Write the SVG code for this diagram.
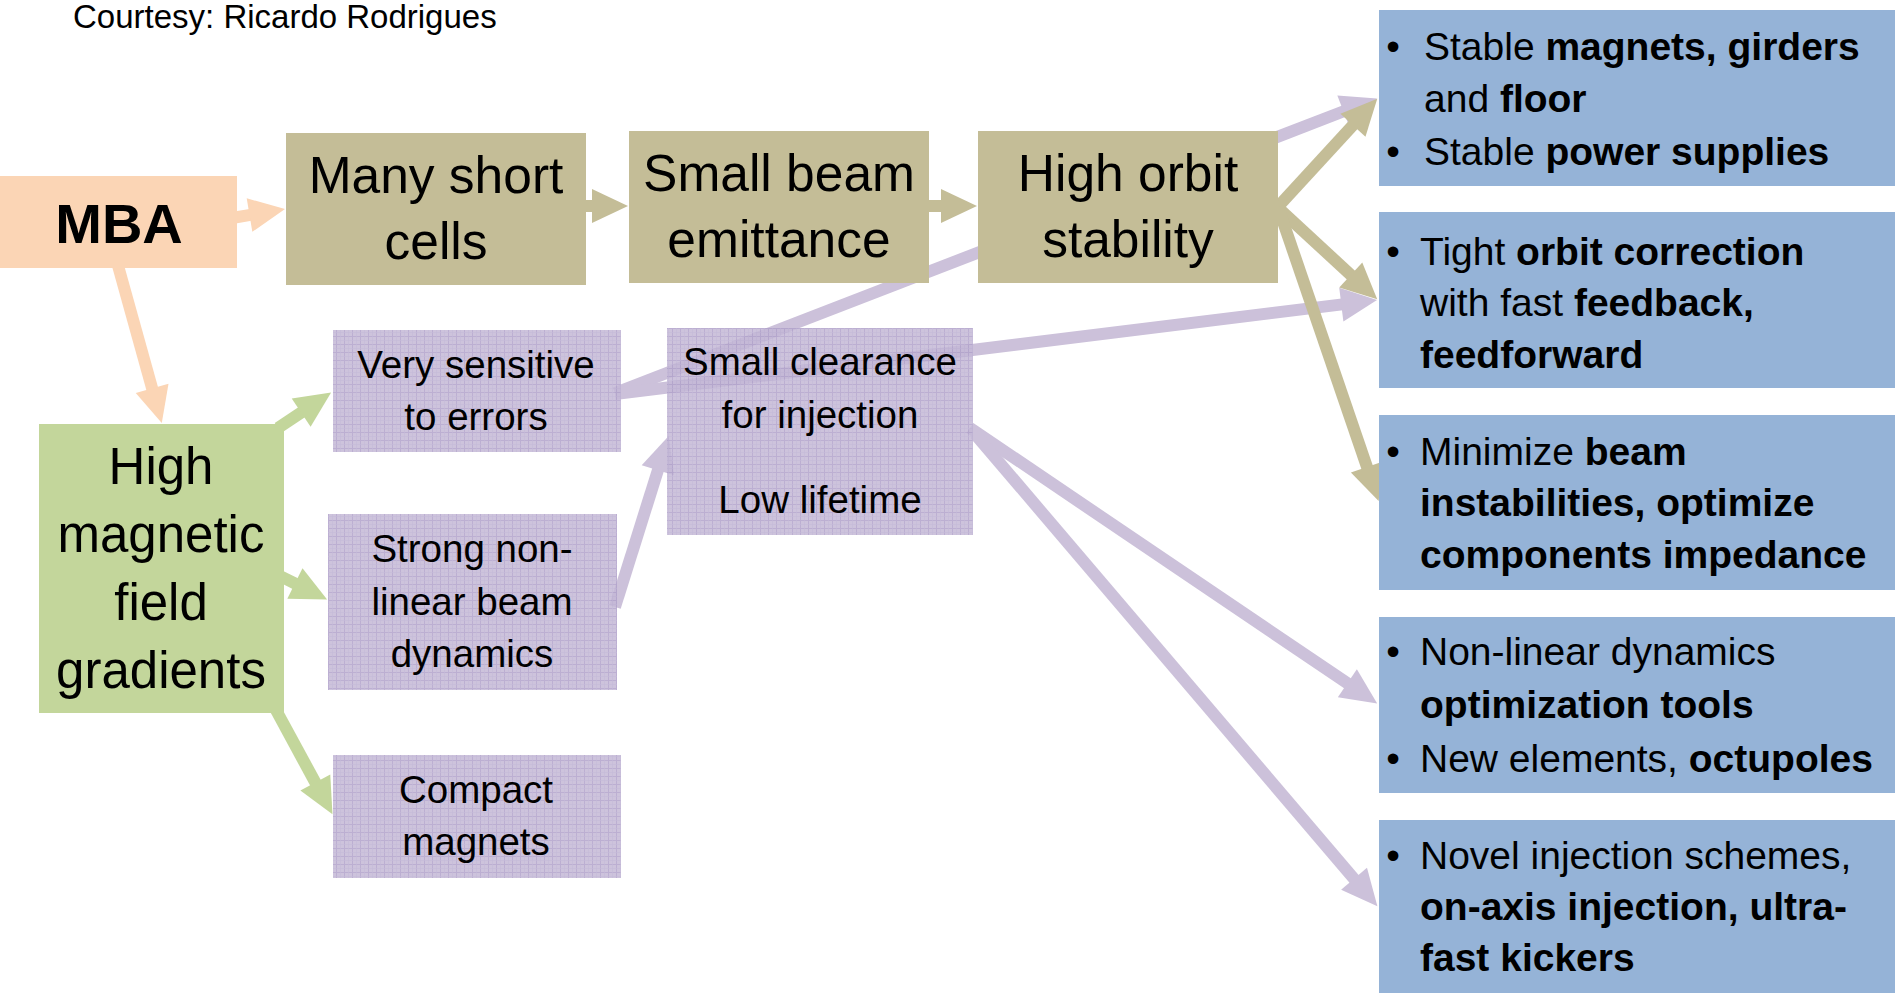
<svg xmlns="http://www.w3.org/2000/svg" width="1895" height="993" viewBox="0 0 1895 993">
<defs>
<style>
text{font-family:"Liberation Sans",Arial,sans-serif;fill:#000}
.big{font-size:51.5px;text-anchor:middle}
.grn{font-size:51px;text-anchor:middle}
.pur{font-size:38.5px;text-anchor:middle}
.rt{font-size:39px}
.bul{font-size:39px;text-anchor:middle}
.b{font-weight:bold}
.cn{fill:none;stroke-width:12;stroke-linecap:butt}
.pk{stroke:#FBD5B5;marker-end:url(#hP)}
.kh{stroke:#C4BD97;marker-end:url(#hK)}
.gr{stroke:#C3D69B;marker-end:url(#hG)}
.pu{stroke:#CCC1DA;marker-end:url(#hU)}
.blue{fill:#95B3D7}
.khaki{fill:#C4BD97}
.purp{fill:url(#pgrid);opacity:0.85}
</style>
<pattern id="pgrid" width="8" height="8" patternUnits="userSpaceOnUse">
<rect width="8" height="8" fill="#C4B8D6"/>
<path d="M0,0.5H8M0.5,0V8" stroke="#B0A1CA" stroke-width="1"/>
<path d="M0,4.5H8M4.5,0V8" stroke="#BBAED2" stroke-width="0.6"/>
</pattern>
<marker id="hP" markerUnits="userSpaceOnUse" markerWidth="36" markerHeight="34" refX="1" refY="17" orient="auto" overflow="visible"><path d="M0,0L36,17L0,34Z" fill="#FBD5B5"/></marker>
<marker id="hK" markerUnits="userSpaceOnUse" markerWidth="36" markerHeight="34" refX="1" refY="17" orient="auto" overflow="visible"><path d="M0,0L36,17L0,34Z" fill="#C4BD97"/></marker>
<marker id="hG" markerUnits="userSpaceOnUse" markerWidth="36" markerHeight="34" refX="1" refY="17" orient="auto" overflow="visible"><path d="M0,0L36,17L0,34Z" fill="#C3D69B"/></marker>
<marker id="hU" markerUnits="userSpaceOnUse" markerWidth="36" markerHeight="34" refX="1" refY="17" orient="auto" overflow="visible"><path d="M0,0L36,17L0,34Z" fill="#CCC1DA"/></marker>
</defs>
<rect width="1895" height="993" fill="#FFFFFF"/>
<text x="73" y="28" style="font-size:33px">Courtesy: Ricardo Rodrigues</text>

<g id="connectors">
<line class="cn pu" x1="615" y1="393" x2="1344.4" y2="111"/>
<line class="cn pu" x1="615" y1="394" x2="1342.3" y2="304.4"/>
<line class="cn pu" x1="615" y1="607" x2="658.2" y2="469.3"/>
<line class="cn pu" x1="970" y1="428" x2="1348.2" y2="683.8"/>
<line class="cn pu" x1="975" y1="434" x2="1354.7" y2="879.6"/>
<line class="cn pk" x1="232" y1="218" x2="250.5" y2="214.9"/>
<line class="cn pk" x1="117" y1="262" x2="152.4" y2="389.3"/>
<line class="cn gr" x1="278" y1="428" x2="302" y2="412"/>
<line class="cn gr" x1="280" y1="576" x2="295.8" y2="583.9"/>
<line class="cn gr" x1="276" y1="710" x2="315.8" y2="783.4"/>
<line class="cn kh" x1="580" y1="206" x2="593" y2="206"/>
<line class="cn kh" x1="925" y1="206" x2="942" y2="206"/>
<line class="cn kh" x1="1275" y1="210" x2="1353.6" y2="124.5"/>
<line class="cn kh" x1="1275" y1="205" x2="1351.5" y2="275.6"/>
<line class="cn kh" x1="1278" y1="207" x2="1367.3" y2="467.9"/>
</g>

<g id="mba">
<rect x="0" y="176" width="237" height="92" fill="#FBD5B5"/>
<text x="119" y="243" class="b" style="font-size:56px;text-anchor:middle">MBA</text>
</g>
<g id="many-short-cells">
<rect x="286" y="133" width="300" height="152" class="khaki"/>
<text class="big" x="436"><tspan x="436" y="193">Many short</tspan><tspan x="436" y="259">cells</tspan></text>
</g>
<g id="small-beam-emittance">
<rect x="629" y="131" width="300" height="152" class="khaki"/>
<text class="big" x="779"><tspan x="779" y="191">Small beam</tspan><tspan x="779" y="257">emittance</tspan></text>
</g>
<g id="high-orbit-stability">
<rect x="978" y="131" width="300" height="152" class="khaki"/>
<text class="big" x="1128"><tspan x="1128" y="191">High orbit</tspan><tspan x="1128" y="257">stability</tspan></text>
</g>
<g id="high-magnetic-field-gradients">
<rect x="39" y="424" width="245" height="289" fill="#C3D69B"/>
<text class="grn" x="161"><tspan x="161" y="484">High</tspan><tspan x="161" y="552">magnetic</tspan><tspan x="161" y="620">field</tspan><tspan x="161" y="688">gradients</tspan></text>
</g>
<g id="very-sensitive">
<rect x="333" y="330" width="288" height="122" class="purp"/>
<text class="pur" x="476"><tspan x="476" y="378">Very sensitive</tspan><tspan x="476" y="430">to errors</tspan></text>
</g>
<g id="strong-nonlinear">
<rect x="328" y="514" width="289" height="176" class="purp"/>
<text class="pur" x="472"><tspan x="472" y="562">Strong non-</tspan><tspan x="472" y="615">linear beam</tspan><tspan x="472" y="667">dynamics</tspan></text>
</g>
<g id="compact-magnets">
<rect x="333" y="755" width="288" height="123" class="purp"/>
<text class="pur" x="476"><tspan x="476" y="803">Compact</tspan><tspan x="476" y="855">magnets</tspan></text>
</g>
<g id="small-clearance">
<rect x="667" y="328" width="306" height="207" class="purp"/>
<text class="pur" x="820"><tspan x="820" y="375">Small clearance</tspan><tspan x="820" y="428">for injection</tspan><tspan x="820" y="513">Low lifetime</tspan></text>
</g>

<g id="stable">
<rect x="1379" y="10" width="516" height="176" class="blue"/>
<text class="bul" x="1393" y="60">•</text>
<text class="rt" x="1424" y="60">Stable <tspan class="b">magnets, girders</tspan></text>
<text class="rt" x="1424" y="112">and <tspan class="b">floor</tspan></text>
<text class="bul" x="1393" y="165">•</text>
<text class="rt" x="1424" y="165">Stable <tspan class="b">power supplies</tspan></text>
</g>
<g id="tight-orbit">
<rect x="1379" y="212" width="516" height="176" class="blue"/>
<text class="bul" x="1393" y="265">•</text>
<text class="rt" x="1420" y="265">Tight <tspan class="b">orbit correction</tspan></text>
<text class="rt" x="1420" y="316">with fast <tspan class="b">feedback,</tspan></text>
<text class="rt b" x="1420" y="368">feedforward</text>
</g>
<g id="minimize">
<rect x="1379" y="415" width="516" height="175" class="blue"/>
<text class="bul" x="1393" y="465">•</text>
<text class="rt" x="1420" y="465">Minimize <tspan class="b">beam</tspan></text>
<text class="rt b" x="1420" y="516">instabilities, optimize</text>
<text class="rt b" x="1420" y="568">components impedance</text>
</g>
<g id="nonlinear-tools">
<rect x="1379" y="617" width="516" height="176" class="blue"/>
<text class="bul" x="1393" y="665">•</text>
<text class="rt" x="1420" y="665">Non-linear dynamics</text>
<text class="rt b" x="1420" y="718">optimization tools</text>
<text class="bul" x="1393" y="772">•</text>
<text class="rt" x="1420" y="772">New elements, <tspan class="b">octupoles</tspan></text>
</g>
<g id="novel-injection">
<rect x="1379" y="820" width="516" height="173" class="blue"/>
<text class="bul" x="1393" y="869">•</text>
<text class="rt" x="1420" y="869">Novel injection schemes,</text>
<text class="rt b" x="1420" y="920">on-axis injection, ultra-</text>
<text class="rt b" x="1420" y="971">fast kickers</text>
</g>
</svg>
